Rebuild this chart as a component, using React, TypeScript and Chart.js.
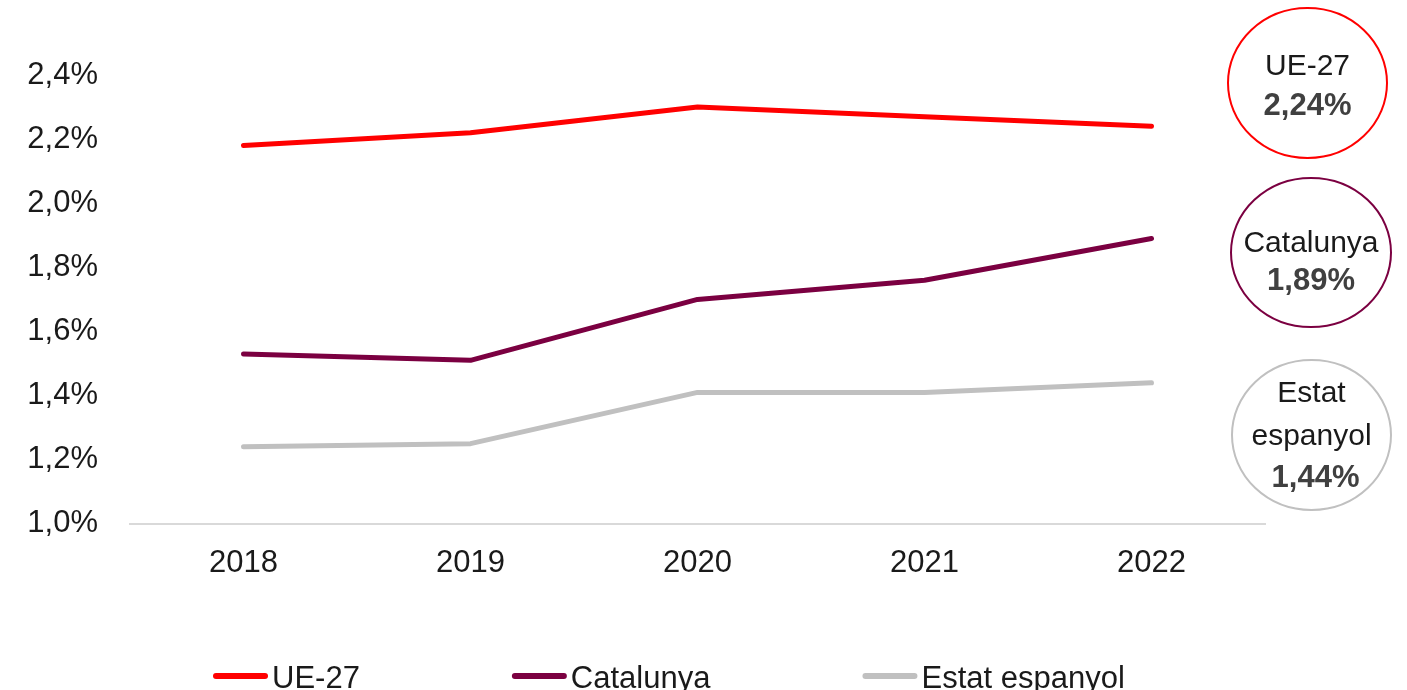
import React, { useEffect, useRef } from "react";
import { Chart, registerables } from "chart.js";

Chart.register(...registerables);

const categories = ["2018", "2019", "2020", "2021", "2022"];
const ue27 = [2.18, 2.22, 2.3, 2.27, 2.24];
const catalunya = [1.53, 1.51, 1.7, 1.76, 1.89];
const estat = [1.24, 1.25, 1.41, 1.41, 1.44];
const yTicks = [1.0, 1.2, 1.4, 1.6, 1.8, 2.0, 2.2, 2.4];
const seriesNames = ["UE-27", "Catalunya", "Estat espanyol"];
const seriesColors = ["#FF0000", "#7B0041", "#C0C0C0"];

const FONT = "'Liberation Sans', Arial, Helvetica, sans-serif";
const fmt = (v: number, d: number) => v.toFixed(d).replace(".", ",") + "%";

const bubbles = [
  { cx: 1307.5, cy: 83, rx: 79.5, ry: 75, lines: ["UE-27"], base: [75], valBase: 115, dx: 0 },
  { cx: 1311, cy: 252.5, rx: 80, ry: 74.5, lines: ["Catalunya"], base: [252], valBase: 290, dx: 0 },
  { cx: 1311.5, cy: 435, rx: 79.5, ry: 75, lines: ["Estat", "espanyol"], base: [402, 445], valBase: 487, dx: 4 },
];

const decorPlugin = {
  id: "decor",
  afterDraw(chart: any) {
    const ctx = chart.ctx;
    ctx.save();
    chart.data.datasets.forEach((ds: any, i: number) => {
      const b = bubbles[i];
      ctx.beginPath();
      ctx.ellipse(b.cx, b.cy, b.rx, b.ry, 0, 0, Math.PI * 2);
      ctx.lineWidth = 2;
      ctx.strokeStyle = ds.borderColor;
      ctx.stroke();
      ctx.textAlign = "center";
      ctx.textBaseline = "alphabetic";
      ctx.fillStyle = "#1a1a1a";
      ctx.font = `30px ${FONT}`;
      b.lines.forEach((t: string, k: number) => ctx.fillText(t, b.cx, b.base[k]));
      ctx.fillStyle = "#404040";
      ctx.font = `bold 31px ${FONT}`;
      const last = ds.data[ds.data.length - 1];
      ctx.fillText(fmt(last, 2), b.cx + b.dx, b.valBase);
    });
    ctx.font = `31px ${FONT}`;
    ctx.textAlign = "left";
    ctx.textBaseline = "alphabetic";
    let x = 213;
    chart.data.datasets.forEach((ds: any) => {
      ctx.beginPath();
      ctx.moveTo(x + 3, 676);
      ctx.lineTo(x + 52, 676);
      ctx.lineWidth = 6;
      ctx.lineCap = "round";
      ctx.strokeStyle = ds.borderColor;
      ctx.stroke();
      ctx.fillStyle = "#1a1a1a";
      ctx.fillText(ds.label, x + 59, 688);
      x += 59 + ctx.measureText(ds.label).width + 152;
    });
    ctx.restore();
  },
};

export default function App() {
  const ref = useRef<HTMLCanvasElement>(null);
  useEffect(() => {
    if (!ref.current) return;
    const values = [ue27, catalunya, estat];
    const chart = new Chart(ref.current, {
      type: "line",
      data: {
        labels: categories,
        datasets: values.map((d, i) => ({
          label: seriesNames[i],
          data: d,
          borderColor: seriesColors[i],
          backgroundColor: seriesColors[i],
          borderWidth: 5,
          borderCapStyle: "round",
          borderJoinStyle: "round",
          pointRadius: 0,
          tension: 0,
          fill: false,
        })),
      },
      options: {
        animation: false,
        responsive: false,
        layout: { padding: { top: 43, right: 142, bottom: 87, left: 0 } },
        plugins: { legend: { display: false }, tooltip: { enabled: false } },
        scales: {
          x: {
            offset: true,
            grid: { display: false, drawTicks: false },
            border: { display: true, color: "#D9D9D9", width: 2 },
            ticks: { color: "#1a1a1a", font: { family: FONT, size: 31 }, padding: 21, maxRotation: 0 },
          },
          y: {
            min: 1.0,
            max: 2.5,
            afterBuildTicks: (axis: any) => {
              axis.ticks = yTicks.map((v) => ({ value: v }));
            },
            afterFit: (axis: any) => {
              axis.width = 130;
              axis.paddingTop = 0;
              axis.paddingBottom = 0;
            },
            grid: { display: false, drawTicks: false },
            border: { display: false },
            ticks: {
              color: "#1a1a1a",
              font: { family: FONT, size: 31 },
              padding: 32,
              callback: (v: any) => fmt(Number(v), 1),
            },
          },
        },
      },
      plugins: [decorPlugin],
    } as any);
    return () => chart.destroy();
  }, []);
  return (
    <div style={{ position: "fixed", left: 0, top: 0, width: 1407, height: 690, background: "#fff" }}>
      <canvas ref={ref} width={1407} height={690} />
    </div>
  );
}
